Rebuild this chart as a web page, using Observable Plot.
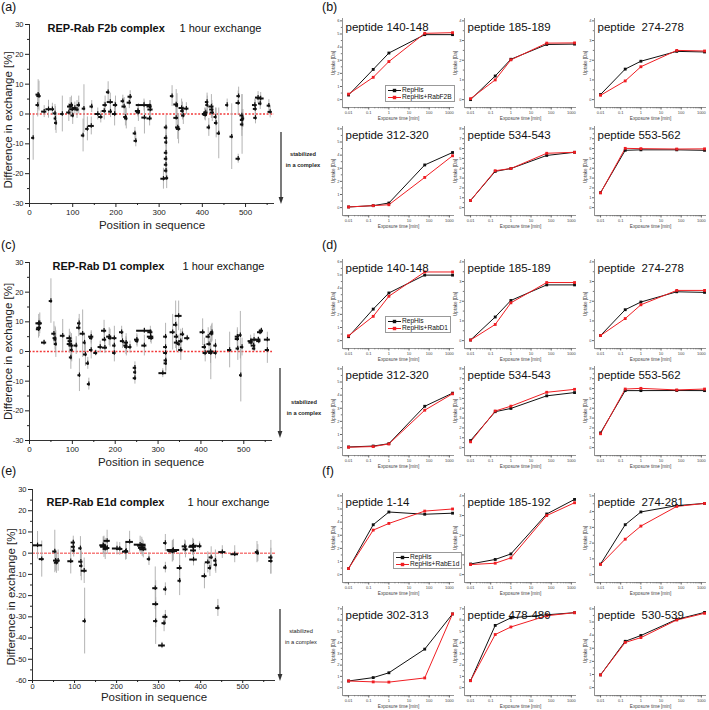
<!DOCTYPE html>
<html><head><meta charset="utf-8">
<script src="https://cdn.jsdelivr.net/npm/d3@7"></script>
<script src="https://cdn.jsdelivr.net/npm/@observablehq/plot@0.6"></script>
<style>
html,body{margin:0;padding:0;background:#fff;}
#root{position:relative;width:709px;height:710px;overflow:hidden;background:#fff;font-family:"Liberation Sans",Arial,Helvetica,sans-serif;}
#root svg text{white-space:pre;}
.plab{position:absolute;font-size:12.5px;color:#111;line-height:14px;}
.note{position:absolute;width:60px;text-align:center;font-size:5.7px;line-height:7px;color:#222;}
.legend{position:absolute;border:0.6px solid #999;font-size:6.6px;line-height:7.3px;padding:0 2px;background:#fff;color:#111;white-space:nowrap;}
.legend svg{vertical-align:middle;margin-right:1px;}
</style></head>
<body><div id="root"></div>
<script>
// ---------- Left panels: [start, end, difference %, error] ----------
const pepF2b = [
[5,12,-8,7.5],[15,25,6.5,5],[17,27,6,5],[15,23,3,4],[28,40,0.8,2],[38,50,1.6,3],[48,58,1.6,2],
[55,63,0.2,3],[57,63,-1.5,4],[58,65,-3,3.5],[72,80,0,6],[86,96,0.5,3],[88,100,2.5,3],[92,102,3,3],
[93,105,1.6,2],[96,104,-0.5,3],[100,110,2,2],[105,115,1.5,3],[110,118,3,3],[120,128,-7.2,5.5],
[122,130,1.8,8],[130,138,-5,4],[136,150,-4,3],[140,148,2.5,2],[152,164,0,2],[160,170,-1,2],
[168,178,1,3],[170,180,3,3],[178,186,7.3,3.5],[180,194,4,3],[183,192,0.8,2],[192,202,0,4],
[194,204,3,3],[212,220,4.3,2],[214,224,2.5,3],[218,226,-1,3],[220,228,-1.5,3.5],[228,238,5.8,2],
[226,236,3.8,2],[240,248,-6.5,2],[242,250,-9,2],[245,257,1,2],[247,257,0.5,3],[247,283,3,2],
[260,272,-1.2,5.5],[272,284,2.5,2],[274,286,1.5,3],[272,284,-1.5,2.5],[304,316,-21.7,3.5],
[312,320,-4.5,4],[312,320,-8,3],[313,320,-9.5,3],[312,320,-13,3],[312,320,-15,3],[312,320,-17,3],
[312,320,-19,3],[313,322,-21.5,3.5],[326,334,6,3.5],[334,345,3.2,5],[338,345,2.8,4],[334,345,-1.3,4],
[338,348,-4.5,4],[340,350,-5,5],[346,358,2,3],[350,358,1,3],[352,360,-0.5,3],[357,369,1.8,2],
[400,411,0,2],[402,412,-0.3,2],[403,413,0.5,1.5],[407,415,4,3],[408,415,3,3],[411,419,-4.5,3],
[415,427,2.5,4],[417,427,1.5,3],[418,428,0.5,3],[427,434,-1,3],[428,436,-3,5],[434,442,-6.5,8.5],
[454,461,3,2],[464,472,-7.6,11],[478,488,-15,1.5],[478,488,3.7,4],[480,488,6,3],[487,496,-0.5,7],
[488,496,-2,3.5],[488,496,-3.5,10],[490,498,-1.5,3],[516,527,3,2],[518,527,1.7,3],[519,527,-1.3,2],
[523,535,5.5,2],[527,543,5.2,2],[530,538,3.5,2],[550,558,2.8,2],[552,562,0.7,2]
];
const pepD1 = [
[15,28,9.5,3],[17,28,8,3],[16,26,7.5,3],[18,30,9.5,3.5],[28,40,3,1],[46,54,17,7.5],[52,62,6,4],
[55,64,4.5,4],[57,64,4,4],[58,65,2.5,4.5],[72,83,5.3,5.5],[87,99,4.5,3],[90,100,3.5,3],[88,98,2.5,3],
[92,104,2,4],[95,102,0.5,4],[93,100,-2,4],[105,113,2,3],[110,120,8,3],[112,120,9.5,3],[113,120,-8,5.5],
[118,130,6,8],[125,132,3,3],[126,135,-1,4],[132,140,-4,2],[135,142,-11,2],[138,150,5,2],[140,148,4.5,2],
[140,148,0.5,3],[150,159,-0.5,1],[160,170,1.5,2],[168,180,7,3.5],[170,180,4,3],[170,182,1.3,2],
[180,192,5,3],[184,192,4.5,3],[192,204,4.5,4],[194,202,2,3],[194,202,-0.5,3],[210,220,6.5,2],
[212,222,3.5,2.5],[220,231,3,3],[220,230,2,3],[222,230,1.5,3],[230,239,1.5,2],[242,250,-5.5,2],
[243,250,-7,2],[242,250,-9,2],[245,256,4,2],[247,255,3.5,2],[250,286,7,1],[262,274,2,3.5],
[275,290,5,2],[276,288,6.5,2],[278,290,4.5,2],[302,320,-7.3,1.5],[313,322,5,4.5],[313,322,1.5,3],
[313,322,-0.5,3],[314,322,-3,3.5],[314,322,-4,3],[328,340,6.5,6],[336,346,9,8],[340,356,12,5],
[338,348,5,5],[338,348,3,3],[345,352,2.5,3],[348,358,3.5,4],[348,358,0.5,3.5],[352,362,5.8,2],
[362,374,4.5,1],[398,410,6.5,4.5],[403,413,1.5,3],[405,415,-0.5,3],[412,422,5,3],[414,424,2.5,3],
[415,430,0,4],[418,428,-0.5,9],[420,430,6,3],[422,430,6.5,3],[430,438,2,2],[430,438,-0.5,2],
[462,472,0.5,6],[480,490,5,3],[480,490,4.2,3],[482,490,1,4],[488,496,5.5,8],[490,496,-8,9],
[492,500,1.5,3],[510,522,3.5,2],[512,522,3,1.5],[518,530,4,2],[518,528,2,1.5],[520,528,1,1],
[528,540,4,1],[530,540,3.5,1],[532,544,6.5,1],[536,546,7,1],[548,562,4,2.5],[550,560,0.5,4.5]
];
const pepE1d = [
[0,24,3.7,6.5],[16,28,-2.8,8.5],[48,58,0.8,10],[50,60,-3.5,5],[52,62,-4.5,5],[56,66,-3.5,5],
[84,98,-3.8,6],[92,102,5,3],[92,102,3,3],[94,102,1.2,3],[110,118,2.3,5.5],[110,120,-4,7],
[112,120,-6,7],[116,130,-8.3,6],[120,128,-32,15.5],[160,176,3.7,4],[162,176,3.5,4],[162,178,3,5],
[168,178,2,5],[170,185,5.8,5],[172,184,2.4,3],[190,212,2.2,3],[200,215,2,3],[214,229,0.7,4],
[218,228,1,4],[222,240,5.3,5],[242,270,4,4],[250,270,3.5,4],[252,270,2.5,4],[255,272,1.8,4],
[273,281,-2.8,3],[286,298,-16.5,10],[286,300,-24,11],[288,298,-32,11],[300,316,-43.5,1.5],
[312,320,4.8,4],[312,320,-6.8,2.5],[312,320,-17,3],[310,322,-30,3],[308,318,-33,4],[320,350,1.5,5],
[322,345,1,5],[325,340,0.8,5],[344,356,-7,7],[346,354,-13,7],[356,368,3.2,3],[358,370,1.8,4],
[372,390,3,4],[374,392,3.5,3],[376,390,1.3,4],[374,392,-3,3],[392,403,3.3,2],[403,415,-10.8,6],
[411,423,-4.3,5],[418,426,-7,4],[420,430,-2,5],[431,439,-3.5,5],[432,440,-5.5,4],[436,446,-25.8,4],
[443,460,0.5,3],[472,490,-0.5,4],[530,538,0.5,5],[532,540,0,4],[562,572,-2,8],[562,572,-3.7,6]
];

// ---------- Right panels: uptake curves ----------
const times = [0.01, 0.167, 1, 60, 1440];
const timeTicks = [0.01, 0.1, 1, 10, 100, 1000];

const titlesB = ["peptide 140-148","peptide 185-189","peptide  274-278","peptide 312-320","peptide 534-543","peptide 553-562"];
const yMaxB = [6,4,4,6,8,8];
const repHisB = [[0.35,2.3,3.55,4.95,4.95],[0.0,1.2,2.05,2.8,2.82],[0.26,1.55,1.95,2.45,2.42],[0.05,0.15,0.35,3.25,4.2],[0.73,3.68,3.97,5.3,5.62],[1.52,5.82,5.87,5.87,5.82]];
const rabF2B = [[0.42,1.7,2.9,5.05,5.1],[0.05,1.0,2.02,2.87,2.88],[0.22,0.95,1.67,2.5,2.47],[0.05,0.15,0.22,2.3,3.95],[0.73,3.75,3.97,5.52,5.62],[1.5,6.02,5.99,5.95,5.97]];

const titlesD = ["peptide 140-148","peptide 185-189","peptide  274-278","peptide 312-320","peptide 534-543","peptide 553-562"];
const yMaxD = [6,4,4,6,8,8];
const repHisD = [[0.3,2.4,3.63,4.99,4.99],[0.03,1.2,2.04,2.83,2.83],[0.26,1.57,1.96,2.48,2.45],[0.05,0.12,0.3,3.15,4.15],[0.72,3.65,3.98,5.26,5.59],[1.5,5.79,5.79,5.8,5.79]];
const rabD1 = [[0.37,1.85,3.38,5.23,5.23],[0.03,0.82,1.92,2.95,2.95],[0.26,1.12,1.82,2.55,2.55],[0.03,0.08,0.28,2.85,4.1],[0.59,3.72,4.21,5.62,5.92],[1.41,5.95,6.02,5.86,5.95]];

const titlesF = ["peptide 1-14","peptide 185-192","peptide  274-281","peptide 302-313","peptide 478-489","peptide  530-539"];
const yMaxF = [6,4,5,7,7,6];
const repHisF = [[0.46,3.8,4.77,4.6,4.68],[0.54,0.77,1.05,3.08,3.82],[0.67,3.17,3.98,4.38,4.52],[0.59,0.89,1.32,3.42,6.55],[0.62,5.53,6.2,6.47,6.66],[0.97,3.53,3.97,5.2,5.73]];
const rabE1d = [[0.46,3.39,3.9,4.84,5.0],[0.51,0.58,0.85,3.0,3.65],[0.65,2.25,3.08,4.33,4.52],[0.59,0.51,0.49,0.86,6.55],[0.62,4.72,5.39,6.39,6.66],[0.97,3.44,3.81,5.15,5.66]];

// ---------- drawing ----------
const FONT = '"Liberation Sans", Arial, Helvetica, sans-serif';
const root = document.getElementById("root");
function place(el, left, top) {
  el.style.position = "absolute"; el.style.left = left + "px"; el.style.top = top + "px";
  root.appendChild(el);
}

function bigChart(data, o) {
  const {top, marginLeft, plotW, plotH, xMax, yDomain, yStep, title, tdx, tdy, t2dx, zeroDash, zeroW, tickPad, tickSz, xFont, xlabDy, ylabDy} = o;
  const [y0, y1] = yDomain;
  const k = 2.2 * (y1 - y0) / plotH;
  const mid = d => (d[0] + d[1]) / 2;
  const yMaj = d3.range(y0, y1 + 0.1, yStep);
  const yMin = d3.range(y0 + yStep / 2, y1, yStep);
  const xMaj = d3.range(0, xMax, 100);
  const xMin = d3.range(50, xMax, 100);
  const svg = Plot.plot({
    width: marginLeft + plotW + 6, height: 24 + plotH + 32,
    marginLeft, marginRight: 6, marginTop: 24, marginBottom: 32,
    x: {domain: [0, xMax]},
    y: {domain: yDomain},
    style: {background: "transparent", fontFamily: FONT, color: "#222", overflow: "visible"},
    marks: [
      Plot.ruleY([0], {stroke: "#f23a3a", strokeWidth: zeroW, strokeDasharray: zeroDash}),
      Plot.ruleX(data, {x: mid, y1: d => d[2] - d[3], y2: d => d[2] + d[3], stroke: "#ababab", strokeWidth: 0.9}),
      Plot.ruleY(data, {x1: d => d[0], x2: d => d[1], y: d => d[2], stroke: "#111", strokeWidth: 2}),
      Plot.ruleX(data, {x: mid, y1: d => d[2] - k, y2: d => d[2] + k, stroke: "#111", strokeWidth: 1.2}),
      Plot.ruleX([0], {stroke: "#333", strokeWidth: 1}),
      Plot.ruleY([y0], {stroke: "#333", strokeWidth: 1}),
      Plot.axisX({ticks: xMaj, tickSize: tickSz, tickPadding: tickPad, fontSize: xFont, label: null, tickFormat: d => String(d)}),
      Plot.axisX({ticks: xMin, tickSize: 2, label: null, tickFormat: () => ""}),
      Plot.axisY({ticks: yMaj, tickSize: 4, tickPadding: 2, fontSize: 7.5, label: null, tickFormat: d => String(d)}),
      Plot.axisY({ticks: yMin, tickSize: 2, label: null, tickFormat: () => ""}),
      Plot.text(["Position in sequence"], {text: d => d, frameAnchor: "bottom", dy: xlabDy, textAnchor: "middle", lineAnchor: "middle", fontSize: 11.5, fill: "#222"}),
      Plot.text(["Difference in exchange [%]"], {text: d => d, frameAnchor: "left", dx: -21, dy: ylabDy, rotate: -90, textAnchor: "middle", lineAnchor: "middle", fontSize: 11.5, fill: "#222"}),
      Plot.text([title], {text: d => d, frameAnchor: "top-left", dx: tdx, dy: tdy, textAnchor: "start", lineAnchor: "middle", fontSize: 11, fontWeight: "bold", fill: "#111"}),
      Plot.text(["1 hour exchange"], {text: d => d, frameAnchor: "top-left", dx: t2dx, dy: tdy, textAnchor: "start", lineAnchor: "middle", fontSize: 11, fill: "#111"})
    ]
  });
  place(svg, 0, top - 24);
}

const xDomSmall = [0.005, 1800];
const minorTimeTicks = [];
for (let e = -3; e <= 3; e++) for (let m = 2; m <= 9; m++) {
  const v = m * Math.pow(10, e);
  if (v > xDomSmall[0] && v < xDomSmall[1]) minorTimeTicks.push(v);
}

function smallChart(title, yMax, black, red, redName, axisLeft, plotTop) {
  const yDom = [-0.1 * yMax, 1.03 * yMax];
  const rows = [];
  times.forEach((t, i) => rows.push({t, v: black[i], s: "RepHis"}));
  times.forEach((t, i) => rows.push({t, v: red[i], s: redName}));
  const svg = Plot.plot({
    width: 16 + 112 + 4, height: 4 + 89 + 18,
    marginLeft: 16, marginRight: 4, marginTop: 4, marginBottom: 18,
    x: {type: "log", domain: xDomSmall},
    y: {domain: yDom},
    color: {domain: ["RepHis", redName], range: ["#111", "#f01e23"]},
    style: {background: "transparent", fontFamily: FONT, color: "#444", overflow: "visible"},
    marks: [
      Plot.ruleX([xDomSmall[0]], {stroke: "#666", strokeWidth: 0.7}),
      Plot.ruleY([yDom[0]], {stroke: "#666", strokeWidth: 0.7}),
      Plot.axisX({ticks: timeTicks, tickSize: 2.5, tickPadding: 1.2, fontSize: 4, label: null, tickFormat: d => String(d), stroke: "#666"}),
      Plot.axisX({ticks: minorTimeTicks, tickSize: 1.3, label: null, tickFormat: () => "", stroke: "#777"}),
      Plot.axisY({ticks: d3.range(0, yMax + 1), tickSize: 2, tickPadding: 1, fontSize: 4, label: null, tickFormat: d => String(d), stroke: "#666"}),
      Plot.axisY({ticks: d3.range(0.5, yMax, 1), tickSize: 1.2, label: null, tickFormat: () => "", stroke: "#777"}),
      Plot.line(rows, {x: "t", y: "v", z: "s", stroke: "s", strokeWidth: 1}),
      Plot.dot(rows, {x: "t", y: "v", fill: "s", symbol: "square", r: 1.6}),
      Plot.text([title], {text: d => d, frameAnchor: "top-left", dx: 3, dy: 9, textAnchor: "start", lineAnchor: "middle", fontSize: 11.5, fill: "#111"}),
      Plot.text(["Exposure time [min]"], {text: d => d, frameAnchor: "bottom", dy: 11, textAnchor: "middle", lineAnchor: "middle", fontSize: 4.7, fill: "#444"}),
      Plot.text(["Uptake [Da]"], {text: d => d, frameAnchor: "left", dx: -9, rotate: -90, textAnchor: "middle", lineAnchor: "middle", fontSize: 4.5, fill: "#444"})
    ]
  });
  place(svg, axisLeft - 16, plotTop - 4);
}

function panelGroup(titles, yMaxes, black, red, redName, rowTops) {
  const cols = [342, 464, 594];
  for (let i = 0; i < 6; i++) {
    smallChart(titles[i], yMaxes[i], black[i], red[i], redName, cols[i % 3], rowTops[Math.floor(i / 3)]);
  }
}

function legend(redName, left, top) {
  const d = document.createElement("div");
  d.className = "legend";
  const sw = c => `<svg width="13" height="5"><line x1="0" y1="2.5" x2="13" y2="2.5" stroke="${c}" stroke-width="1"/><rect x="4.8" y="0.8" width="3.4" height="3.4" fill="${c}"/></svg>`;
  d.innerHTML = `<div>${sw("#111")}RepHis</div><div>${sw("#f01e23")}${redName}</div>`;
  place(d, left, top);
}

function label(txt, left, top) {
  const d = document.createElement("div"); d.className = "plab"; d.textContent = txt; place(d, left, top);
}

function note(cx, cy, bold, y1, y2, ax) {
  const d = document.createElement("div"); d.className = "note";
  d.style.fontWeight = bold ? "bold" : "normal";
  d.innerHTML = "stabilized<br><span style='display:inline-block;margin-top:4px'>in a complex</span>";
  place(d, cx - 30, cy - 4);
  const ns = "http://www.w3.org/2000/svg";
  const s = document.createElementNS(ns, "svg");
  s.setAttribute("width", 10); s.setAttribute("height", y2 - y1 + 2);
  s.innerHTML = `<line x1="5" y1="0" x2="5" y2="${y2 - y1 - 5}" stroke="#333" stroke-width="1.3"/><path d="M2.6,${y2 - y1 - 7} L5,${y2 - y1} L7.4,${y2 - y1 - 7}Z" fill="#333"/>`;
  place(s, ax - 5, y1);
}

// Left column
bigChart(pepF2b, {top: 24, marginLeft: 29, plotW: 245, plotH: 179, xMax: 567, yDomain: [-30, 30], yStep: 10,
  title: "REP-Rab F2b complex", tdx: 18, tdy: 4, t2dx: 150, zeroDash: "2,1.6", zeroW: 1.3, tickPad: 2, tickSz: 4, xFont: 8, xlabDy: 22, ylabDy: 6});
bigChart(pepD1, {top: 262, marginLeft: 29, plotW: 243, plotH: 178, xMax: 567, yDomain: [-30, 30], yStep: 10,
  title: "REP-Rab D1 complex", tdx: 23, tdy: 4, t2dx: 153, zeroDash: "2,1.6", zeroW: 1.3, tickPad: 2, tickSz: 4, xFont: 8, xlabDy: 22, ylabDy: 0});
bigChart(pepE1d, {top: 489, marginLeft: 32, plotW: 243, plotH: 191, xMax: 578, yDomain: [-60, 30], yStep: 10,
  title: "REP-Rab E1d complex", tdx: 14, tdy: 13, t2dx: 155, zeroDash: "3,1", zeroW: 1, tickPad: 0.5, tickSz: 3, xFont: 7.5, xlabDy: 17, ylabDy: 12});

note(303, 155, true, 132, 204, 281);
note(304, 403, true, 368, 438, 280);
note(301, 632, false, 609, 681, 280);

// Right column
panelGroup(titlesB, yMaxB, repHisB, rabF2B, "RepHis+RabF2B", [18, 126]);
panelGroup(titlesD, yMaxD, repHisD, rabD1, "RepHis+RabD1", [259, 366]);
panelGroup(titlesF, yMaxF, repHisF, rabE1d, "RepHis+RabE1d", [493, 606]);

legend("RepHis+RabF2B", 385, 85);
legend("RepHis+RabD1", 385, 316);
legend("RepHis+RabE1d", 393, 552);

label("(a)", 1, 0); label("(b)", 322, 0);
label("(c)", 1, 238); label("(d)", 322, 238);
label("(e)", 1, 464); label("(f)", 322, 464);
</script></body></html>
